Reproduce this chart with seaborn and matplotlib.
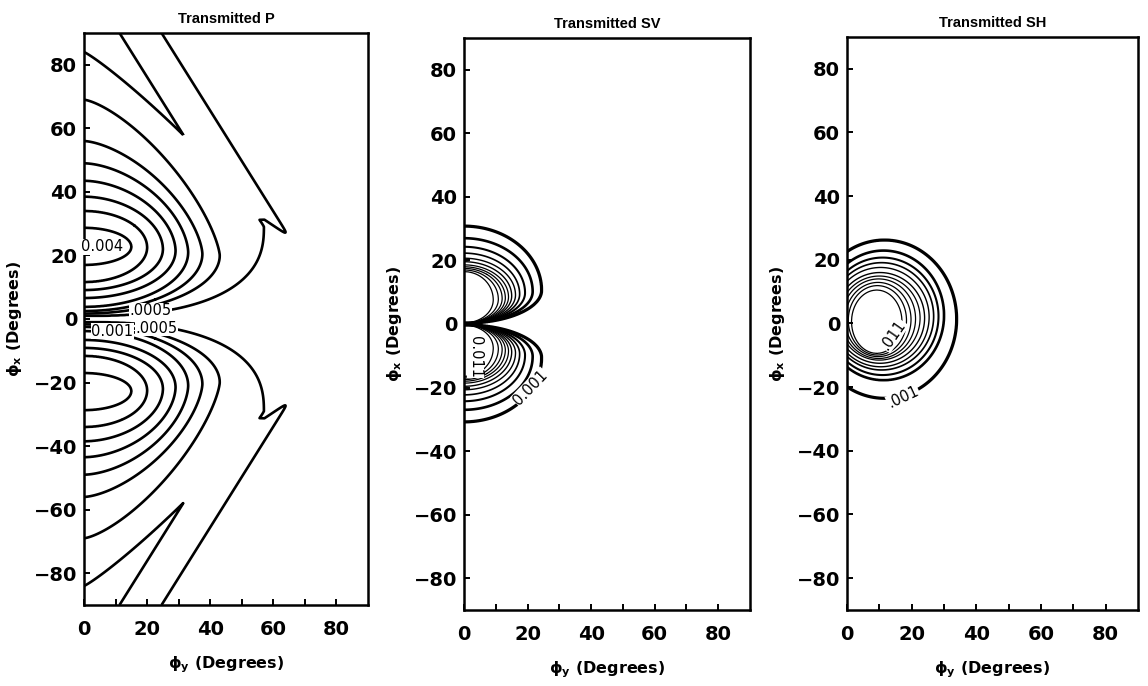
import numpy as np
import matplotlib
matplotlib.use("Agg")
import matplotlib.pyplot as plt
import seaborn as sns

# ---------------------------------------------------------------------------
# Transmitted P : contour levels (innermost first) and where each level runs
# ---------------------------------------------------------------------------
p_levels = [0.004, 0.0035, 0.003, 0.0025, 0.002, 0.0015, 0.001, 0.0005]
p_peak = 0.0043
p_top = [28.7, 34.0, 38.5, 43.5, 49.0, 56.0, 69.0, 84.0]      # phi_x crossing above lobe centre
p_bottom = [17.0, 11.6, 9.1, 6.6, 3.8, 2.5, 1.7, 1.0]         # phi_x crossing below lobe centre
p_right = [15.0, 20.0, 25.0, 29.0, 33.0, 37.5, 43.0, 57.0]    # largest phi_y of each level
p_center = [22.7, 22.5, 22.0, 21.5, 21.0, 20.5, 20.0, 29.0]   # phi_x of that largest phi_y
p_shape_up = [2.0, 2.0, 1.9, 1.8, 1.7, 1.55, 1.4, 1.12]       # superellipse exponent, upper side
p_shape_dn = [2.0, 2.0, 2.0, 2.0, 2.0, 2.0, 2.0, 2.5]         # superellipse exponent, lower side

# critical-angle ridge bounding the P lobes
p_ridge_tip = (66.0, 25.0)
p_ridge_top_x = 25.0
p_ridge_width = 12.0
p_ridge_level = 0.0007

# ---------------------------------------------------------------------------
# Transmitted SV
# ---------------------------------------------------------------------------
sv_levels = [0.011, 0.010, 0.009, 0.008, 0.007, 0.006, 0.005, 0.004, 0.003, 0.002, 0.001]
sv_peak = 0.013
sv_top = [16.5, 17.0, 17.5, 18.0, 18.6, 19.6, 20.7, 22.3, 24.3, 27.0, 30.8]
sv_right = [9.2, 10.8, 12.0, 13.0, 14.0, 15.0, 16.2, 17.5, 19.2, 21.6, 24.4]
sv_center = [7.6, 7.8, 8.0, 8.2, 8.5, 8.8, 9.1, 9.4, 9.8, 10.2, 10.6]
sv_pinch = 0.3

# ---------------------------------------------------------------------------
# Transmitted SH
# ---------------------------------------------------------------------------
sh_levels = [0.011, 0.010, 0.009, 0.008, 0.007, 0.006, 0.005, 0.004, 0.003, 0.002, 0.001]
sh_peak = 0.013
sh_top = [10.5, 11.9, 12.9, 14.0, 14.9, 16.0, 17.6, 19.1, 20.7, 22.9, 26.2]
sh_bottom = [-9.4, -9.9, -10.4, -11.0, -11.5, -12.5, -13.6, -14.6, -16.2, -17.8, -23.5]
sh_right = [17.0, 18.4, 19.8, 21.2, 22.6, 24.0, 25.4, 26.8, 28.3, 30.0, 33.9]
sh_center_x = [9.2, 9.4, 9.6, 9.8, 10.0, 10.2, 10.4, 10.7, 11.0, 11.3, 11.6]

titles = ["Transmitted P", "Transmitted SV", "Transmitted SH"]
x_ticks = [0, 20, 40, 60, 80]
y_ticks = [-80, -60, -40, -20, 0, 20, 40, 60, 80]

# contour labels: (level, phi_y, phi_x, rotation, keep leading zero)
p_labels = [(0.004, 5.6, 22.7, 0, True), (0.0005, 21.0, 2.6, 0, False),
            (0.001, 9.0, -3.9, 0, True), (0.0005, 23.0, -2.9, 0, False)]
sv_labels = [(0.011, 3.6, -10.3, 270, True), (0.001, 21.0, -20.0, 46, True)]
sh_labels = [(0.011, 14.3, -3.6, 55, False), (0.001, 17.4, -23.2, 25, False)]


def radius(dx, dy, a, b, p):
    return (np.abs(dx / a) ** p + np.abs(dy / b) ** p) ** (1.0 / p)


def nested_field(rhos, levels, peak, decay=3.0):
    """Value field whose level sets are the given nested curves (rho == 1)."""
    rhos = np.asarray(rhos)
    levels = np.asarray(levels)
    out = np.empty(rhos.shape[1:])
    done = np.zeros(rhos.shape[1:], dtype=bool)
    m = rhos[0] < 1
    out[m] = (peak - (peak - levels[0]) * rhos[0] ** 2)[m]
    done |= m
    for k in range(1, len(levels)):
        m = (~done) & (rhos[k] < 1)
        t = (rhos[k - 1] - 1) / np.maximum(rhos[k - 1] - rhos[k], 1e-9)
        t = np.clip(t, 0, 1)
        out[m] = (levels[k - 1] + t * (levels[k] - levels[k - 1]))[m]
        done |= m
    out[~done] = (levels[-1] * np.exp(-decay * (rhos[-1] - 1)))[~done]
    return out


def sigmoid(z):
    return 1.0 / (1.0 + np.exp(-np.clip(z, -60, 60)))


phi_y = np.linspace(0, 90, 901)
phi_x = np.linspace(-90, 90, 1801)
X, Y = np.meshgrid(phi_y, phi_x)
A = np.abs(Y)

# --- P field ---------------------------------------------------------------
rhos = []
for top, bot, right, c, pu, pd in zip(p_top, p_bottom, p_right, p_center,
                                      p_shape_up, p_shape_dn):
    dy = A - c
    semi = np.where(dy > 0, top - c, c - bot)
    expo = np.where(dy > 0, pu, pd)
    rhos.append(radius(X, dy, right, semi, expo))
p_lobe = nested_field(rhos, p_levels, p_peak)

tip = np.array(p_ridge_tip)
d = np.array([p_ridge_top_x, 90.0]) - tip
d /= np.hypot(*d)
nrm = np.array([-d[1], d[0]])
s = (X - tip[0]) * d[0] + (A - tip[1]) * d[1]
n = (X - tip[0]) * nrm[0] + (A - tip[1]) * nrm[1]
sp = np.maximum(s, 0)
w = np.minimum(p_ridge_width, 0.45 * sp + 1.2 * np.maximum(sp - 10, 0))
e = 0.4
ridge = p_ridge_level * sigmoid(n / e) * sigmoid((w - n) / e) * sigmoid(s / e)
p_field = np.maximum(p_lobe, ridge)

# --- SV field --------------------------------------------------------------
rhos = []
for top, right, c in zip(sv_top, sv_right, sv_center):
    dy = A - c
    semi = np.where(dy > 0, top - c, c - sv_pinch)
    rhos.append(radius(X, dy, right, semi, 2.0))
sv_field = nested_field(rhos, sv_levels, sv_peak)

# --- SH field --------------------------------------------------------------
rhos = []
for top, bot, right, cx in zip(sh_top, sh_bottom, sh_right, sh_center_x):
    cy = 0.5 * (top + bot)
    ry = 0.5 * (top - bot)
    rhos.append(radius(X - cx, Y - cy, right - cx, ry, 2.0))
sh_field = nested_field(rhos, sh_levels, sh_peak)

# ---------------------------------------------------------------------------
sns.set_style("ticks")
plt.rcParams["font.family"] = ["DejaVu Sans"]
plt.rcParams["mathtext.default"] = "bf"
for key in ("text.color", "axes.labelcolor", "xtick.color", "ytick.color", "axes.edgecolor"):
    plt.rcParams[key] = "black"

fig = plt.figure(figsize=(11.48, 6.86), dpi=100)
rects = [[0.0732, 0.1181, 0.2474, 0.8338],
         [0.4042, 0.1108, 0.2491, 0.8338],
         [0.7378, 0.1108, 0.2535, 0.8353]]

thin_to_thick = [0.9, 0.9, 0.9, 0.9, 0.9, 1.0, 1.0, 1.2, 1.5, 1.9, 2.3]
panels = [
    (p_field, p_levels, [1.9] * len(p_levels), p_labels),
    (sv_field, sv_levels, thin_to_thick, sv_labels),
    (sh_field, sh_levels, thin_to_thick, sh_labels),
]


def label_text(v, lead):
    txt = f"{v:.4f}".rstrip("0")
    return txt if lead else txt[1:]


for rect, title, (field, levels, widths, labels) in zip(rects, titles, panels):
    ax = fig.add_axes(rect)
    order = np.argsort(levels)
    lv = np.asarray(levels)[order]
    lw = np.asarray(widths)[order]
    ax.contour(phi_y, phi_x, field, levels=lv, colors="black", linewidths=lw)
    for v, lx, ly, rot, lead in labels:
        ax.text(lx, ly, label_text(v, lead), fontsize=10.5, rotation=rot,
                ha="center", va="center", rotation_mode="anchor",
                bbox=dict(facecolor="white", edgecolor="none", pad=0.4), zorder=4)
    ax.set_xlim(0, 90)
    ax.set_ylim(-90, 90)
    ax.set_xticks(x_ticks)
    ax.set_xticks([10, 30, 50, 70], minor=True)
    ax.set_yticks(y_ticks)
    ax.set_xticklabels([str(t) for t in x_ticks])
    ax.set_yticklabels([f"{t}".replace("-", "\u2212") for t in y_ticks])
    ax.tick_params(which="both", direction="in", length=4.5, width=1.4, color="black",
                   top=False, right=False)
    ax.tick_params(axis="x", which="major", labelsize=14, pad=11)
    ax.tick_params(axis="y", which="major", labelsize=14, pad=5)
    for lab in ax.get_xticklabels() + ax.get_yticklabels():
        lab.set_fontweight("bold")
    for spn in ax.spines.values():
        spn.set_visible(True)
        spn.set_linewidth(1.8)
        spn.set_color("black")
    ax.set_title(title, fontsize=10.5, fontweight="bold", family="Liberation Sans", pad=7)
    ax.set_xlabel("\u03d5$_{y}$ (Degrees)", fontsize=11.5, fontweight="bold", labelpad=11)
    ax.set_ylabel("\u03d5$_{x}$ (Degrees)", fontsize=11.5, fontweight="bold", labelpad=7)

fig.savefig("out.png", dpi=100, facecolor="white")
